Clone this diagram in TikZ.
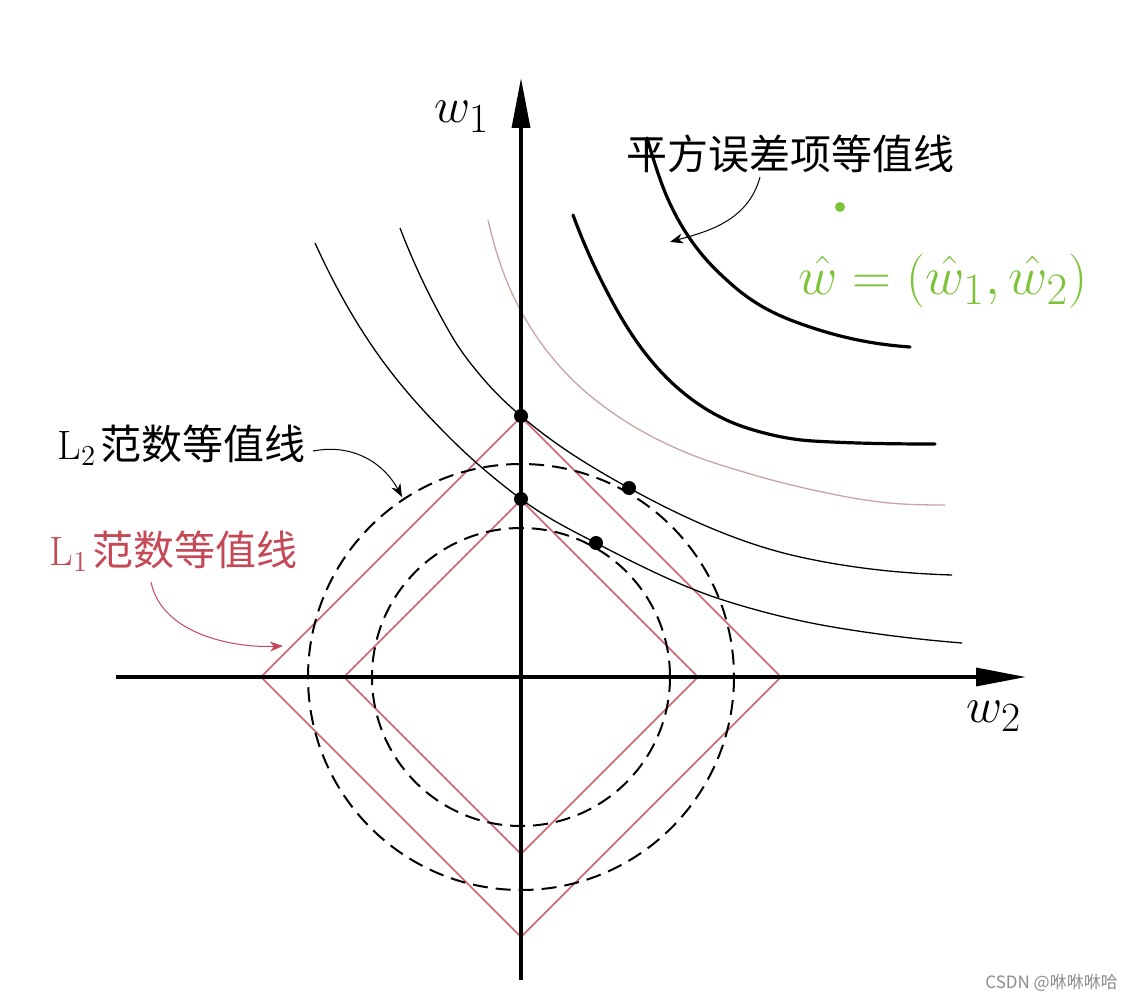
\documentclass[tikz,border=0pt]{standalone}
\usepackage{fontspec}
\newfontfamily\cjk{Noto Sans CJK SC}
\usetikzlibrary{arrows.meta}
\definecolor{lred}{RGB}{196,72,86}
\definecolor{dred}{RGB}{208,100,110}
\definecolor{faint}{RGB}{200,165,165}
\definecolor{hgreen}{RGB}{125,195,55}
\definecolor{wmgray}{RGB}{140,140,140}
\begin{document}
\begin{tikzpicture}[x=1pt,y=-1pt,
  axis/.style={line width=3.4pt,-{Triangle[length=50pt,width=18pt]}},
  diam/.style={dred,line width=1.6pt,line join=miter},
  dcirc/.style={black,line width=2pt,dash pattern=on 15pt off 8pt},
  thinc/.style={black,line width=1.3pt},
  faintc/.style={faint,line width=1.3pt},
  thickc/.style={black,line width=3.2pt,line cap=round},
  dotst/.style={fill=black,draw=none},
  lbl/.style={inner sep=0pt,scale=2,font=\fontsize{20.5}{24}\selectfont},
  axlbl/.style={inner sep=0pt,anchor=base west,scale=2,font=\fontsize{24.88}{30}\selectfont},
  note/.style={line width=1pt,-{Stealth[length=13pt,width=10pt,inset=4pt]}}]
\useasboundingbox[fill=white] (0,0) rectangle (1134,1000);

\coordinate (O) at (521,677);
\coordinate (hl) at (116,677);
\coordinate (hr) at (1026,677);
\coordinate (vb) at (521,980);
\coordinate (vt) at (521,78);

% L1 diamonds
\draw[diam] (261,677) -- (521,417) -- (781,677) -- (521,937) -- cycle;
\draw[diam] (344,677) -- (521,500) -- (698,677) -- (521,854) -- cycle;

% L2 dashed circles
\draw[dcirc] (O) circle[radius=213];
\draw[dcirc] (O) circle[radius=149];

% squared error contours
\draw[thinc] (315,243) .. controls (360,342) and (405,393) .. (450,438)
  .. controls (473.67,461.67) and (497.33,481.25) .. (521,499)
  .. controls (546,517.75) and (571,530) .. (596,543)
  .. controls (638.33,565.01) and (680.67,586.45) .. (723,600)
  .. controls (759.67,611.73) and (796.33,620.77) .. (833,627)
  .. controls (876,634.31) and (919,639.56) .. (962,643);
\draw[thinc] (400,228) .. controls (416.67,271.33) and (433.33,303.83) .. (450,333)
  .. controls (460,350.5) and (470,363) .. (480,375)
  .. controls (493.67,391.4) and (507.33,404.38) .. (521,416)
  .. controls (557,446.6) and (593,468.2) .. (629,488)
  .. controls (686,519.35) and (743,544.46) .. (800,557)
  .. controls (850.67,568.15) and (901.33,573.48) .. (952,575);
\draw[faintc] (488,220) .. controls (492,236.8) and (496,251.4) .. (500,263)
  .. controls (507.33,284.27) and (514.67,299.8) .. (522,313)
  .. controls (535.67,337.6) and (549.33,354.97) .. (563,370)
  .. controls (579.67,388.33) and (596.33,401.33) .. (613,413)
  .. controls (635.33,428.63) and (657.67,440.17) .. (680,450)
  .. controls (702.33,459.83) and (724.67,466.3) .. (747,473)
  .. controls (769,479.6) and (791,485.16) .. (813,490)
  .. controls (835.33,494.91) and (857.67,499.32) .. (880,502)
  .. controls (901.67,504.6) and (923.33,505) .. (945,505);
\draw[thickc] (573,215) .. controls (586.33,251) and (599.67,278.33) .. (613,303)
  .. controls (635.33,344.31) and (657.67,371.02) .. (680,390)
  .. controls (702.33,408.98) and (724.67,420.85) .. (747,428)
  .. controls (769,435.04) and (791,439.68) .. (813,441)
  .. controls (853.67,443.44) and (894.33,444) .. (935,444);
\draw[thickc] (647,138) .. controls (653.67,160.67) and (660.33,181.67) .. (667,197)
  .. controls (675.67,216.93) and (684.33,230.87) .. (693,243)
  .. controls (705.33,260.27) and (717.67,271.9) .. (730,283)
  .. controls (741,292.9) and (752,300.73) .. (763,307)
  .. controls (779.67,316.5) and (796.33,322.5) .. (813,328)
  .. controls (829.67,333.5) and (846.33,337.83) .. (863,341)
  .. controls (878.67,343.98) and (894.33,345.9) .. (910,347);

% axes
\draw[axis] (hl) -- (hr);
\draw[axis] (vb) -- (vt);

% tangent points
\fill[dotst] (521,416) circle[radius=7];
\fill[dotst] (521,499) circle[radius=7];
\fill[dotst] (629,488) circle[radius=7];
\fill[dotst] (596,543) circle[radius=7];

% axis labels
\node[axlbl] (w1) at (434,123) {$w_1$};
\node[axlbl] (w2) at (966,722) {$w_2$};

% labels
\node[lbl,anchor=base west] (sq) at (626,170) {\cjk 平方误差项等值线};
\node[lbl,anchor=base west] (l2) at (57,459) {L$_2$\kern2pt{\cjk 范数等值线}};
\node[lbl,anchor=base west,text=lred] (l1) at (49,565) {L$_1$\kern2pt{\cjk 范数等值线}};

\coordinate (sqtip) at (670,242);
\coordinate (l2tip) at (402,497);
\coordinate (l1tip) at (283,646);
\coordinate (sqstart) at (760,177);
\coordinate (l2start) at (313,451);
\coordinate (l1start) at (151,582);
\draw[note] (sqstart) .. controls (748,222) and (705,232) .. (sqtip);
\draw[note] (l2start) .. controls (355,443) and (385,465) .. (l2tip);
\draw[note,lred] (l1start) .. controls (162,635) and (235,648) .. (l1tip);

% handwritten annotation
\coordinate (hatpt) at (840,207);
\fill[hgreen] (hatpt) circle[radius=5];
\node[inner sep=0pt,anchor=base west,text=hgreen,scale=2.17,font=\fontsize{24.88}{30}\selectfont] (hatlbl) at (798,294) {$\hat{w}=(\hat{w}_1,\hat{w}_2)$};

% watermark
\node[inner sep=0pt,anchor=base east,text=wmgray,font=\fontsize{17}{20}\selectfont] (wm) at (1118,988) {\cjk CSDN @咻咻咻哈};
\end{tikzpicture}
\end{document}
